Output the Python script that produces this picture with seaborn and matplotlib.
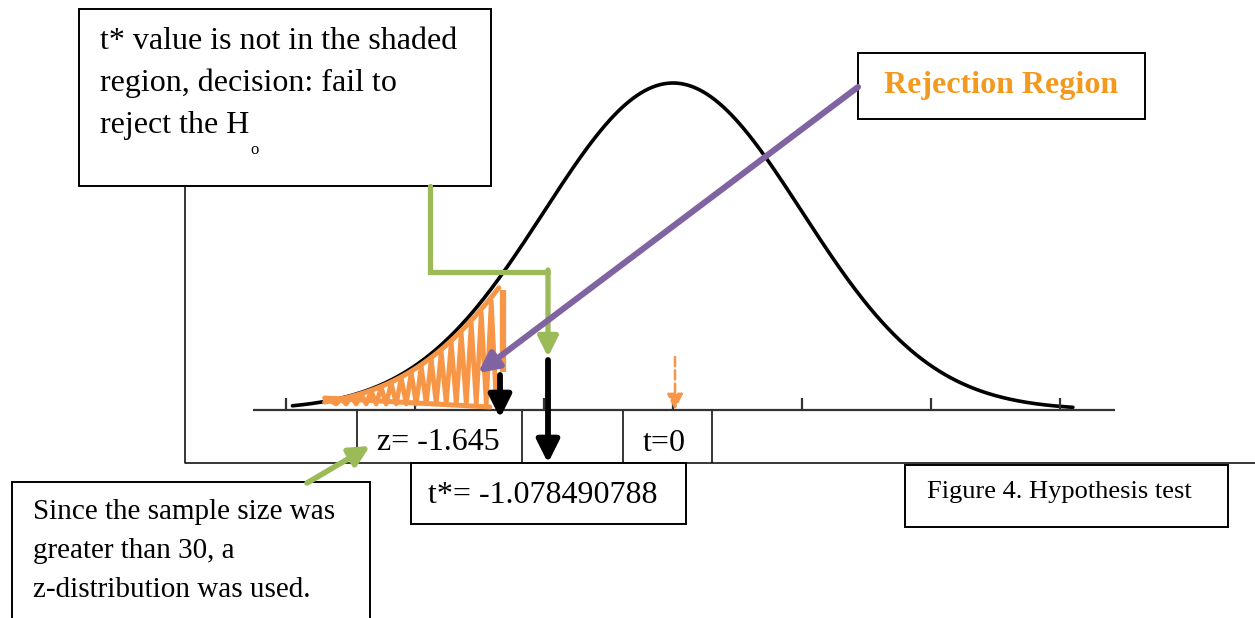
import numpy as np
import seaborn as sns
import matplotlib.pyplot as plt
from matplotlib.patches import Rectangle

# values shown on the diagram
z_crit = -1.645
t_star = -1.078490788
t_zero = 0
tick_z = [-3, -2, -1, 0, 1, 2, 3]
box_text = ["t* value is not in the shaded", "region, decision: fail to", "reject the H"]
note_text = ["Since the sample size was", "greater than 30, a", "z-distribution was used."]
caption = "Figure 4. Hypothesis test"
region_label = "Rejection Region"

# hand-drawn shading spans this part of the left tail (z units)
shade_lo, shade_hi = -2.7, -1.32

W, H = 1255, 618
cx, unit = 673, 129          # pixel of z=0, pixels per z unit
base, peak_px = 410, 327     # baseline pixel row, curve height in px

orange = "#F79646"
green = "#9BBB59"
purple = "#8064A2"

sns.set_style("white")
plt.rcParams["font.family"] = ["Liberation Serif", "DejaVu Serif"]
plt.rcParams["text.color"] = "black"

fig = plt.figure(figsize=(12.55, 6.18), dpi=100)
ax = fig.add_axes([0, 0, 1, 1])
scale = peak_px / (1 / np.sqrt(2 * np.pi))
ax.set_xlim(-cx / unit, (W - cx) / unit)
ax.set_ylim(-(H - base) / scale, base / scale)
ax.axis("off")


def pdf(z):
    return np.exp(-z ** 2 / 2) / np.sqrt(2 * np.pi)


# normal curve + axis
z = np.linspace(-2.95, 3.1, 400)
sns.lineplot(x=z, y=pdf(z), ax=ax, color="black", lw=2.6)
ax.hlines(0, (253 - cx) / unit, (1115 - cx) / unit, color="#333333", lw=1.6)
ax.vlines(tick_z, 0, 12 / scale, color="#333333", lw=1.6)

# scribbled rejection region
xs = np.linspace(shade_lo + 0.05, shade_hi - 0.05, 34)
ys = np.where(np.arange(len(xs)) % 2 == 0, pdf(xs) * 0.9, 6 / scale)
ax.plot(xs, ys, color=orange, lw=3.4, solid_joinstyle="round", zorder=3)
zz = np.linspace(shade_lo, shade_hi - 0.03, 60)
ax.plot(zz, pdf(zz) * 0.93, color=orange, lw=3.6, zorder=3)
ax.plot([shade_lo, shade_hi - 0.1], [12 / scale, 3 / scale], color=orange, lw=3.6, zorder=3)
ax.vlines(shade_hi, 38 / scale, 120 / scale, color=orange, lw=4.5, zorder=3)

# overlay in pixel space for boxes and callouts
ov = fig.add_axes([0, 0, 1, 1])
ov.set_xlim(0, W)
ov.set_ylim(H, 0)
ov.axis("off")
ov.patch.set_alpha(0)


def box(x0, y0, x1, y1, lw=1.4):
    ov.add_patch(Rectangle((x0, y0), x1 - x0, y1 - y0, facecolor="white",
                           edgecolor="black", lw=lw, zorder=4))


def arrow(tail, tip, color, lw, ms, ls="-"):
    ov.annotate("", xy=tip, xytext=tail, zorder=6,
                arrowprops=dict(arrowstyle="-|>", color=color, lw=lw, ls=ls,
                                mutation_scale=ms, shrinkA=0, shrinkB=0))


# connector frame lines and table cells
ov.plot([185, 185, W], [186, 463, 463], color="black", lw=1.1, zorder=3)
ov.vlines([357, 522, 623, 712], 411, 463, color="black", lw=1.1, zorder=3)

box(79, 9, 491, 186)
for i, line in enumerate(box_text):
    ov.text(100, 49 + 42 * i, line, fontsize=23, va="baseline", zorder=5)
ov.text(250, 154, "o", fontsize=12, va="baseline", zorder=5)

box(858, 53, 1145, 119)
ov.text(1001, 93, region_label, fontsize=23, fontweight="bold", color="#F39A1E",
        ha="center", va="baseline", zorder=5)

ov.text(438, 450, f"z= {z_crit}", fontsize=23, ha="center", va="baseline", zorder=5)
ov.text(664, 451, f"t={t_zero}", fontsize=23, ha="center", va="baseline", zorder=5)

box(411, 463, 686, 524)
ov.text(543, 503, f"t*= {t_star}", fontsize=23, ha="center", va="baseline", zorder=5)

box(905, 465, 1228, 527)
ov.text(927, 498, caption, fontsize=19, va="baseline", zorder=5)

box(12, 482, 370, 700)
for i, line in enumerate(note_text):
    ov.text(33, 519 + 39 * i, line, fontsize=21, va="baseline", zorder=5)

# callout arrows
ov.plot([430, 430, 548], [186, 272, 272], color=green, lw=3.8, zorder=5,
        solid_joinstyle="miter")
arrow((548, 270), (548, 357), green, 3.8, 30)
arrow((548, 360), (548, 463), "black", 4.2, 34)
arrow((500, 375), (500, 418), "black", 4.2, 34)
arrow((858, 87), (478, 373), purple, 4.4, 30)
arrow((307, 483), (370, 446), green, 4.0, 30)
arrow((675, 357), (675, 410), orange, 1.8, 24, ls="--")

fig.savefig("out.png", dpi=100)
